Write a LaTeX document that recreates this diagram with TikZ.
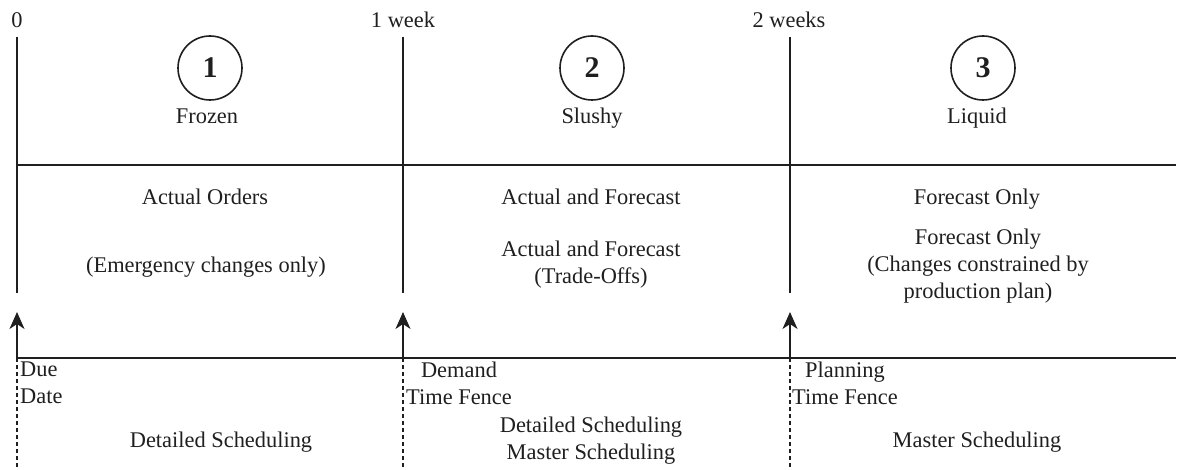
\documentclass[tikz,border=0pt]{standalone}
\usepackage{fontspec}
\setmainfont{Liberation Serif}
\usetikzlibrary{arrows.meta}
\begin{document}
\begin{tikzpicture}[x=1pt,y=-1pt,
  ink/.style={black!88},
  rule/.style={ink, line width=1.5pt},
  baseline rule/.style={ink, line width=2pt},
  fence/.style={ink, line width=1.3pt, dash pattern=on 4pt off 3pt},
  marker/.style={ink, line width=1.8pt, -{Stealth[length=17pt,width=15pt,inset=5pt]}},
  lbl/.style={ink, font=\fontsize{22.4}{27}\selectfont, inner sep=0pt, anchor=base, align=center},
  zone/.style={circle, draw, ink, line width=1.6pt, minimum size=64pt, inner sep=0pt,
               font=\fontsize{30}{32}\selectfont\bfseries},
]
\useasboundingbox (0,0) rectangle (1189,470);

% time axis marks
\node[lbl] (t0) at (17,28) {0};
\node[lbl] (t1) at (403,28) {1 week};
\node[lbl] (t2) at (789,28) {2 weeks};

% line end points
\coordinate (v0top) at (17,37);  \coordinate (v0bot) at (17,293);
\coordinate (v1top) at (403,37); \coordinate (v1bot) at (403,293);
\coordinate (v2top) at (790,37); \coordinate (v2bot) at (790,293);
\coordinate (hTopL) at (17,165); \coordinate (hTopR) at (1176,165);
\coordinate (hBotL) at (17,358); \coordinate (hBotR) at (1176,358);
\coordinate (f0) at (17,358);  \coordinate (f0end) at (17,470);
\coordinate (f1) at (403,358); \coordinate (f1end) at (403,470);
\coordinate (f2) at (790,358); \coordinate (f2end) at (790,470);
\coordinate (a0) at (17,312);  \coordinate (a1) at (403,312); \coordinate (a2) at (790,312);

% period boundaries and horizontal rules
\draw[rule] (v0top) -- (v0bot);
\draw[rule] (v1top) -- (v1bot);
\draw[rule] (v2top) -- (v2bot);
\draw[rule] (hTopL) -- (hTopR);
\draw[baseline rule] (hBotL) -- (hBotR);

% fences below the baseline
\draw[fence] (f0) -- (f0end);
\draw[fence] (f1) -- (f1end);
\draw[fence] (f2) -- (f2end);

% upward markers
\draw[marker] (f0) -- (a0);
\draw[marker] (f1) -- (a1);
\draw[marker] (f2) -- (a2);

% zones
\node[zone] (z1) at (210,68) {1};
\node[zone] (z2) at (592,68) {2};
\node[zone] (z3) at (983,68) {3};
\node[lbl] (frozen) at (207,124) {Frozen};
\node[lbl] (slushy) at (592,124) {Slushy};
\node[lbl] (liquid) at (977,124) {Liquid};

% demand source in each zone
\node[lbl] (d1) at (205,205) {Actual Orders};
\node[lbl] (d2) at (591,205) {Actual and Forecast};
\node[lbl] (d3) at (977,205) {Forecast Only};

% change policy in each zone (multi-line nodes sit on their last line)
\node[lbl] (c1) at (206,273) {(Emergency changes only)};
\node[lbl] (c2) at (591,284) {Actual and Forecast\\(Trade-Offs)};
\node[lbl] (c3) at (978,299) {Forecast Only\\(Changes constrained by\\production plan)};

% fence names
\node[lbl, anchor=base west, align=left] (due) at (20,403) {Due\\Date};
\node[lbl] (dtf) at (459,404) {Demand\\Time Fence};
\node[lbl] (ptf) at (845,404) {Planning\\Time Fence};

% scheduling level
\node[lbl] (s1) at (221,447) {Detailed Scheduling};
\node[lbl] (s2) at (591,459) {Detailed Scheduling\\Master Scheduling};
\node[lbl] (s3) at (977,447) {Master Scheduling};
\end{tikzpicture}
\end{document}
